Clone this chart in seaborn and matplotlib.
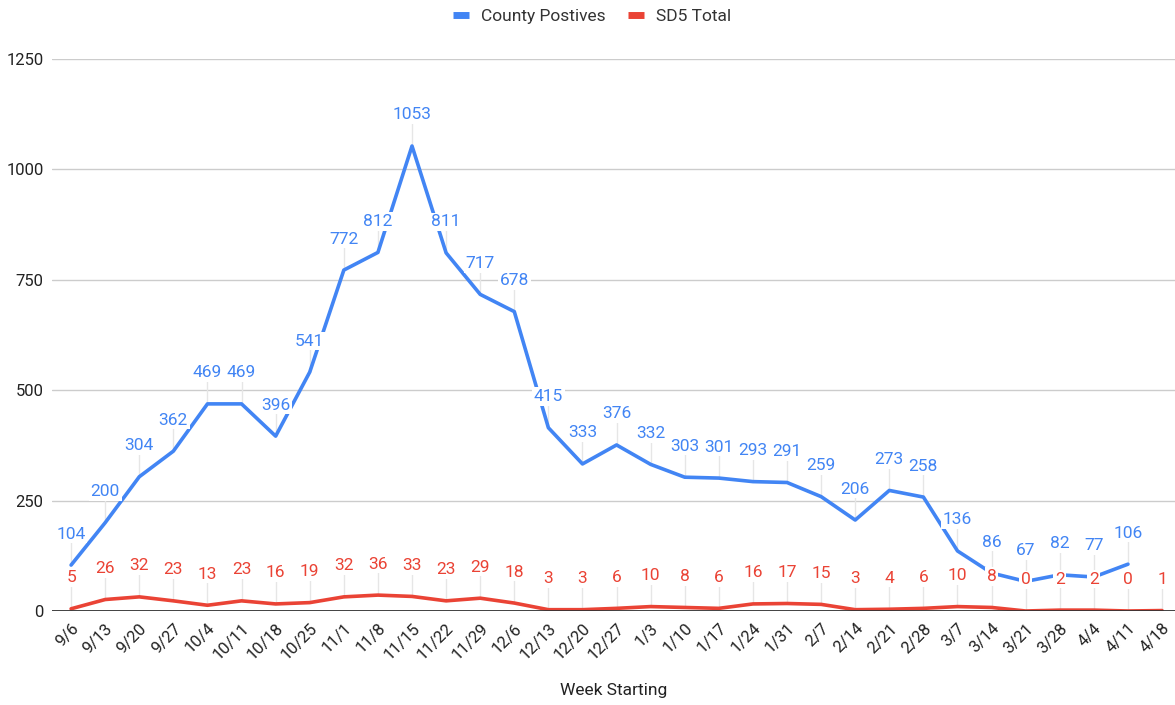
import numpy as np
import pandas as pd
import matplotlib
matplotlib.use("Agg")
import matplotlib.pyplot as plt
import seaborn as sns

weeks = ["9/6", "9/13", "9/20", "9/27", "10/4", "10/11", "10/18", "10/25", "11/1", "11/8",
         "11/15", "11/22", "11/29", "12/6", "12/13", "12/20", "12/27", "1/3", "1/10", "1/17",
         "1/24", "1/31", "2/7", "2/14", "2/21", "2/28", "3/7", "3/14", "3/21", "3/28",
         "4/4", "4/11", "4/18"]
county_positives = [104, 200, 304, 362, 469, 469, 396, 541, 772, 812, 1053, 811, 717, 678,
                    415, 333, 376, 332, 303, 301, 293, 291, 259, 206, 273, 258, 136, 86,
                    67, 82, 77, 106, np.nan]
sd5_total = [5, 26, 32, 23, 13, 23, 16, 19, 32, 36, 33, 23, 29, 18, 3, 3, 6, 10, 8, 6,
             16, 17, 15, 3, 4, 6, 10, 8, 0, 2, 2, 0, 1]
series_names = ["County Postives", "SD5 Total"]
colors = ["#4285F4", "#EA4335"]

sns.set_theme(style="white")
plt.rcParams['font.family'] = ['Roboto', 'DejaVu Sans']

idx = np.arange(len(weeks))
df = pd.concat([
    pd.DataFrame({"x": idx, "value": county_positives, "series": series_names[0]}),
    pd.DataFrame({"x": idx, "value": sd5_total, "series": series_names[1]}),
])

fig = plt.figure(figsize=(11.75, 7.05), dpi=100)
ax = fig.add_axes([52 / 1175, 1 - 611 / 705, 1 - 52 / 1175, (611 - 59) / 705])

sns.lineplot(data=df.dropna(), x="x", y="value", hue="series", palette=colors,
             hue_order=series_names, linewidth=2.6, ax=ax, legend=True, zorder=3,
             estimator=None, sort=False)

ax.set_xlim(-0.56, len(weeks) - 1 + 0.38)
ax.set_ylim(0, 1250)
ax.set_yticks([0, 250, 500, 750, 1000, 1250])
ax.set_yticklabels(["0", "250", "500", "750", "1000", "1250"], fontsize=12, color="#222222")
ax.set_xticks(idx)
ax.set_xticklabels(weeks, rotation=45, ha="right", rotation_mode="anchor",
                   fontsize=12, color="#222222")
ax.tick_params(axis="y", length=0, pad=6)
ax.tick_params(axis="x", length=0, pad=7)
for v in [250, 500, 750, 1000, 1250]:
    ax.axhline(v, color="#cccccc", linewidth=1, zorder=0)
ax.axhline(0, color="#333333", linewidth=1.3, zorder=4)
for s in ax.spines.values():
    s.set_visible(False)
ax.set_xlabel("Week Starting", fontsize=12.5, color="#222222", va="center")
ax.xaxis.set_label_coords((614 - 52) / 1123, -(691 - 611) / 552)
ax.set_ylabel("")

# data labels with leader lines
px = 1250 / 552  # data units per pixel
off = 31 * px
for vals, col in zip([county_positives, sd5_total], colors):
    for i, v in zip(idx, vals):
        if v is None or (isinstance(v, float) and np.isnan(v)):
            continue
        ax.plot([i, i], [v, v + off - 8 * px], color="#e6e6e6", linewidth=1, zorder=1)
        ax.text(i, v + off, f"{int(v)}", ha="center", va="center", fontsize=12.5,
                color=col, zorder=5,
                bbox=dict(boxstyle="square,pad=0.1", facecolor="white", edgecolor="none"))

# legend
handles, labels = ax.get_legend_handles_labels()
for h in handles:
    h.set_linewidth(5)
    h.set_solid_capstyle("butt")
ax.legend(handles, labels, loc="center", bbox_to_anchor=((592 - 52) / 1123, 1 + (59 - 16) / 552),
          ncol=2, frameon=False, fontsize=12.5, handlelength=0.9, columnspacing=1.3,
          handletextpad=0.7, labelcolor="#333333")

fig.savefig("out.png", dpi=100, facecolor="white")
